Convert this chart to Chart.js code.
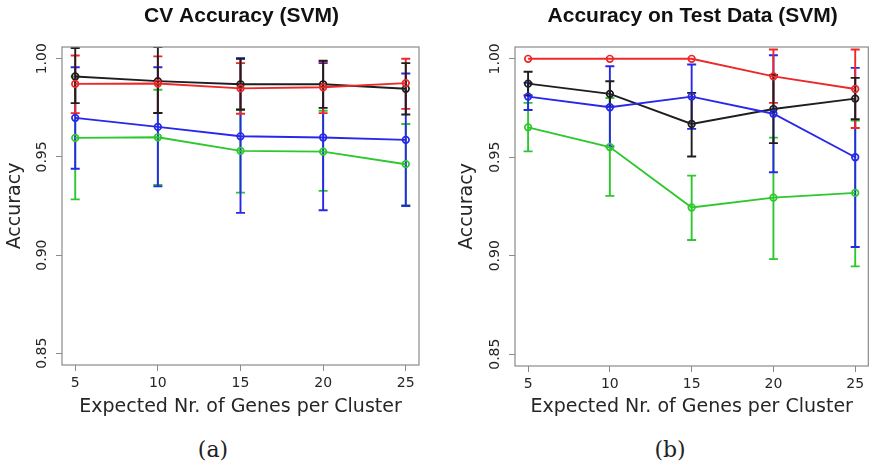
<!DOCTYPE html>
<html>
<head>
<meta charset="utf-8">
<script src="https://cdn.jsdelivr.net/npm/chart.js@4"></script>
<style>
  body { margin: 0; background: #fff; width: 874px; height: 468px; position: relative; overflow: hidden; }
  canvas { position: absolute; top: 0; }
  .caption { position: absolute; top: 437px; font-family: "DejaVu Serif", serif; font-size: 22px; color: #222; transform: translateX(-50%); }
</style>
</head>
<body>
<canvas id="cvChart" width="437" height="430" style="left:0"></canvas>
<canvas id="testChart" width="437" height="430" style="left:437px"></canvas>
<div class="caption" style="left:213px">(a)</div>
<div class="caption" style="left:670px">(b)</div>
<script>
const xValues = [5, 10, 15, 20, 25];
const yTicks = [0.85, 0.90, 0.95, 1.00];

// CV accuracy (panel a): mean, lower and upper end of error bar
const cvBlack = [0.991, 0.9886, 0.987, 0.987, 0.9847];
const cvBlackLo = [0.9774, 0.9724, 0.974, 0.975, 0.9716];
const cvBlackHi = [1.0055, 1.006, 1.000, 0.999, 0.9978];
const cvRed = [0.9872, 0.9874, 0.9849, 0.9855, 0.9876];
const cvRedLo = [0.9723, 0.9724, 0.972, 0.9723, 0.9745];
const cvRedHi = [1.0017, 1.0012, 0.9978, 0.9985, 1.000];
const cvBlue = [0.9699, 0.9653, 0.9605, 0.9599, 0.9587];
const cvBlueLo = [0.944, 0.935, 0.9215, 0.9228, 0.925];
const cvBlueHi = [0.9957, 0.9957, 1.0003, 0.9978, 0.9925];
const cvGreen = [0.9597, 0.960, 0.9531, 0.9527, 0.9463];
const cvGreenLo = [0.9284, 0.9357, 0.9318, 0.9327, 0.9254];
const cvGreenHi = [0.991, 0.9842, 0.9743, 0.9735, 0.9668];

// accuracy on test data (panel b)
const testBlack = [0.9874, 0.9822, 0.9669, 0.9745, 0.9798];
const testBlackLo = [0.9814, 0.9758, 0.9504, 0.9572, 0.9693];
const testBlackHi = [0.9934, 0.9886, 0.9827, 0.9918, 0.9903];
const testRed = [1.0, 1.0, 1.0, 0.9911, 0.9847];
const testRedLo = [1.0, 1.0, 1.0, 0.9776, 0.9649];
const testRedHi = [1.0, 1.0, 1.0, 1.0047, 1.0047];
const testBlue = [0.9808, 0.9754, 0.9808, 0.9721, 0.950];
const testBlueLo = [0.974, 0.9555, 0.9644, 0.9424, 0.9044];
const testBlueHi = [0.9878, 0.9962, 0.9971, 1.0018, 0.9954];
const testGreen = [0.9652, 0.9552, 0.9245, 0.9295, 0.9319];
const testGreenLo = [0.953, 0.9304, 0.908, 0.8983, 0.8946];
const testGreenHi = [0.9776, 0.9801, 0.9407, 0.960, 0.9686];

const BLACK = 'rgb(30,30,30)';
const RED = 'rgb(238,40,40)';
const BLUE = 'rgb(40,40,235)';
const GREEN = 'rgb(45,200,45)';
const AXIS_GRAY = '#8a8a8a';
const TEXT = '#262626';

function makeSeries(color, mean, lo, hi) {
  return {
    data: xValues.map((x, i) => ({ x: x, y: mean[i] })),
    errLo: lo,
    errHi: hi,
    borderColor: color,
    backgroundColor: 'rgba(255,255,255,0)',
    borderWidth: 1.9,
    pointRadius: 3.3,
    pointBorderWidth: 1.7,
    pointBorderColor: color,
    pointBackgroundColor: 'rgba(255,255,255,0)',
    tension: 0
  };
}

// R style: whiskers with flat caps, box around the plot, rotated y labels, title
const rPlotPlugin = {
  id: 'rPlot',
  beforeDatasetsDraw(chart) {
    const ctx = chart.ctx;
    const area = chart.chartArea;
    const xs = chart.scales.x;
    const ys = chart.scales.y;
    ctx.save();
    ctx.beginPath();
    ctx.rect(area.left, area.top, area.right - area.left, area.bottom - area.top);
    ctx.clip();
    chart.data.datasets.forEach(ds => {
      ctx.strokeStyle = ds.borderColor;
      ctx.lineWidth = 1.9;
      ds.data.forEach((p, i) => {
        if (ds.errHi[i] === ds.errLo[i]) return;
        const px = xs.getPixelForValue(p.x);
        const top = ys.getPixelForValue(ds.errHi[i]);
        const bot = ys.getPixelForValue(ds.errLo[i]);
        ctx.beginPath();
        ctx.moveTo(px, top); ctx.lineTo(px, bot);
        ctx.moveTo(px - 4.5, top); ctx.lineTo(px + 4.5, top);
        ctx.moveTo(px - 4.5, bot); ctx.lineTo(px + 4.5, bot);
        ctx.stroke();
      });
    });
    ctx.restore();
  },
  afterDraw(chart, args, opts) {
    const ctx = chart.ctx;
    const area = chart.chartArea;
    const ys = chart.scales.y;
    ctx.save();
    ctx.strokeStyle = AXIS_GRAY;
    ctx.lineWidth = 1.2;
    ctx.strokeRect(area.left, area.top, area.right - area.left, area.bottom - area.top);

    ctx.fillStyle = TEXT;
    ctx.font = '14px "DejaVu Sans"';
    ctx.textAlign = 'center';
    ctx.textBaseline = 'middle';
    yTicks.forEach(v => {
      ctx.save();
      ctx.translate(area.left - 20, ys.getPixelForValue(v));
      ctx.rotate(-Math.PI / 2);
      ctx.fillText(v.toFixed(2), 0, 0);
      ctx.restore();
    });

    ctx.fillStyle = '#111';
    ctx.font = 'bold 21px "Liberation Sans"';
    ctx.fillText(opts.title, (area.left + area.right) / 2 + 1, 16);
    ctx.restore();
  }
};

function buildChart(canvasId, title, series, yAxisWidth, rightPad, xAxisHeight, yTitlePad) {
  return new Chart(document.getElementById(canvasId), {
    type: 'line',
    data: { datasets: series },
    plugins: [rPlotPlugin],
    options: {
      responsive: false,
      animation: false,
      layout: { padding: { top: 47, right: rightPad, left: 0, bottom: 0 } },
      plugins: {
        legend: { display: false },
        tooltip: { enabled: false },
        rPlot: { title: title }
      },
      scales: {
        x: {
          type: 'linear',
          min: 4.2,
          max: 25.8,
          afterBuildTicks: axis => { axis.ticks = xValues.map(v => ({ value: v })); },
          afterFit: axis => { axis.height = xAxisHeight; },
          grid: { drawOnChartArea: false, drawTicks: true, tickLength: 6, color: AXIS_GRAY },
          border: { display: false },
          ticks: { color: TEXT, font: { family: 'DejaVu Sans', size: 14 }, padding: 4, maxRotation: 0 },
          title: { display: true, text: 'Expected Nr. of Genes per Cluster', color: TEXT,
                   font: { family: 'DejaVu Sans', size: 19 }, padding: { top: 0, bottom: 12 } }
        },
        y: {
          type: 'linear',
          min: 0.844,
          max: 1.006,
          afterBuildTicks: axis => { axis.ticks = yTicks.map(v => ({ value: v })); },
          afterFit: axis => { axis.width = yAxisWidth; },
          grid: { drawOnChartArea: false, drawTicks: true, tickLength: 6, color: AXIS_GRAY },
          border: { display: false },
          ticks: { display: false },
          title: { display: true, text: 'Accuracy', color: TEXT,
                   font: { family: 'DejaVu Sans', size: 19 }, padding: { top: yTitlePad, bottom: 0 } }
        }
      }
    }
  });
}

buildChart('cvChart', 'CV Accuracy (SVM)', [
  makeSeries(GREEN, cvGreen, cvGreenLo, cvGreenHi),
  makeSeries(BLUE, cvBlue, cvBlueLo, cvBlueHi),
  makeSeries(RED, cvRed, cvRedLo, cvRedHi),
  makeSeries(BLACK, cvBlack, cvBlackLo, cvBlackHi)
], 62, 18, 65, 4);

buildChart('testChart', 'Accuracy on Test Data (SVM)', [
  makeSeries(GREEN, testGreen, testGreenLo, testGreenHi),
  makeSeries(BLUE, testBlue, testBlueLo, testBlueHi),
  makeSeries(RED, testRed, testRedLo, testRedHi),
  makeSeries(BLACK, testBlack, testBlackLo, testBlackHi)
], 78, 2, 64, 19);
</script>
</body>
</html>
